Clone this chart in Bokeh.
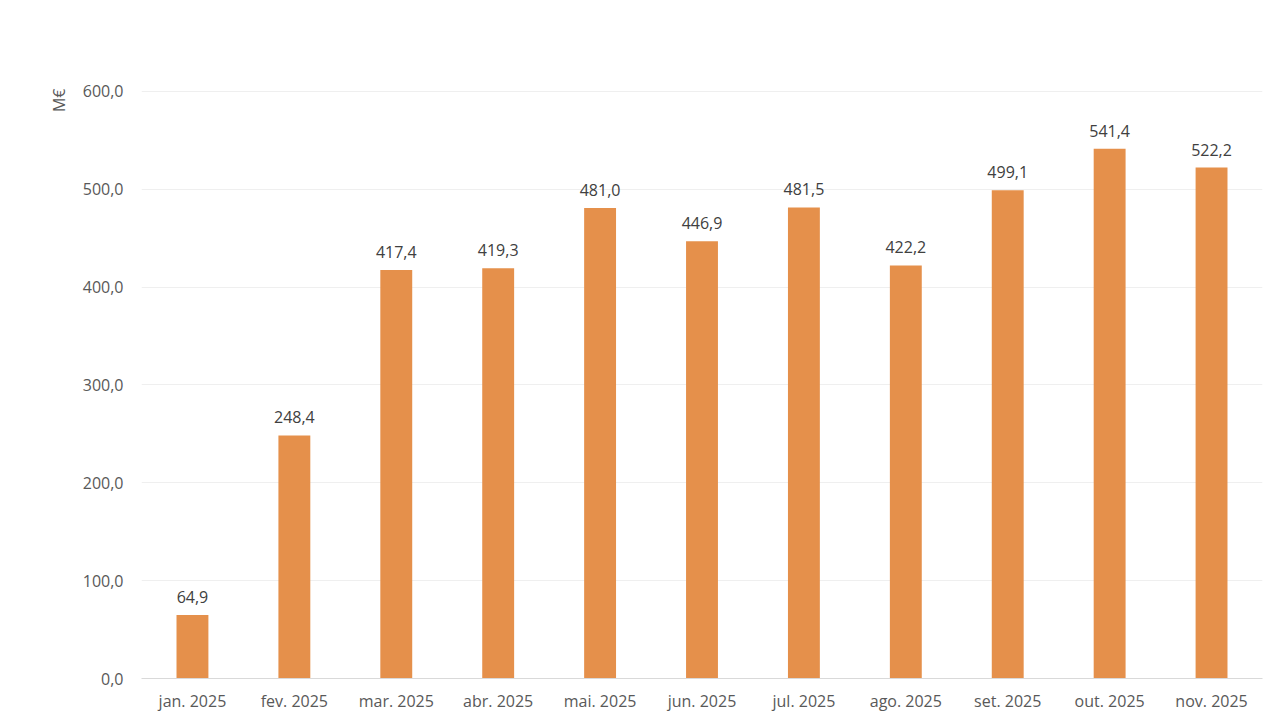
import math
from bokeh.plotting import figure
from bokeh.models import ColumnDataSource, Range1d, FactorRange, Title, CustomJSTickFormatter, FixedTicker
from bokeh.core.properties import value
from bokeh.embed import file_html
from bokeh.resources import INLINE

months = ["jan. 2025", "fev. 2025", "mar. 2025", "abr. 2025", "mai. 2025", "jun. 2025",
          "jul. 2025", "ago. 2025", "set. 2025", "out. 2025", "nov. 2025"]
values = [64.9, 248.4, 417.4, 419.3, 481.0, 446.9, 481.5, 422.2, 499.1, 541.4, 522.2]
y_ticks = [0, 100, 200, 300, 400, 500, 600]

labels = [f"{v:.1f}".replace(".", ",") for v in values]
src = ColumnDataSource(dict(m=months, v=values, lab=labels))

FONT = "Open Sans"

p = figure(frame_width=1121, frame_height=598, x_range=FactorRange(*months, range_padding=0),
           y_range=Range1d(0, 611.2), output_backend="svg", toolbar_location=None,
           min_border_left=141, min_border_right=10, min_border_top=80, min_border_bottom=34)
p.outline_line_color = None
p.background_fill_color = "white"
p.border_fill_color = "white"

p.vbar(x="m", top="v", width=0.313, source=src, color="#E5904B", line_color=None)
p.text(x="m", y="v", text="lab", source=src, text_align="center", text_baseline="bottom",
       y_offset=-12, text_font=value(FONT), text_font_size="16px", text_color="#404040")

p.xgrid.grid_line_color = None
p.ygrid.grid_line_color = "#efefef"
p.ygrid.ticker = FixedTicker(ticks=y_ticks)

p.yaxis.ticker = FixedTicker(ticks=y_ticks)
p.yaxis.formatter = CustomJSTickFormatter(code="return tick.toFixed(1).replace('.', ',');")
p.yaxis.axis_line_color = None
p.yaxis.major_tick_line_color = None
p.yaxis.minor_tick_line_color = None
p.yaxis.major_label_text_font = FONT
p.yaxis.major_label_text_font_size = "16px"
p.yaxis.major_label_text_color = "#595959"
p.yaxis.major_label_standoff = 12

p.xaxis.axis_line_color = "#d9d9d9"
p.xaxis.major_tick_line_color = None
p.xaxis.minor_tick_line_color = None
p.xaxis.major_label_text_font = FONT
p.xaxis.major_label_text_font_size = "16px"
p.xaxis.major_label_text_color = "#595959"
p.xaxis.major_label_standoff = 5

unit = Title(text="M€", align="right", text_font=FONT, text_font_size="16px",
             text_font_style="normal", text_color="#595959", offset=8, standoff=19)
p.add_layout(unit, "left")

open("out.html", "w").write(file_html(p, INLINE))
